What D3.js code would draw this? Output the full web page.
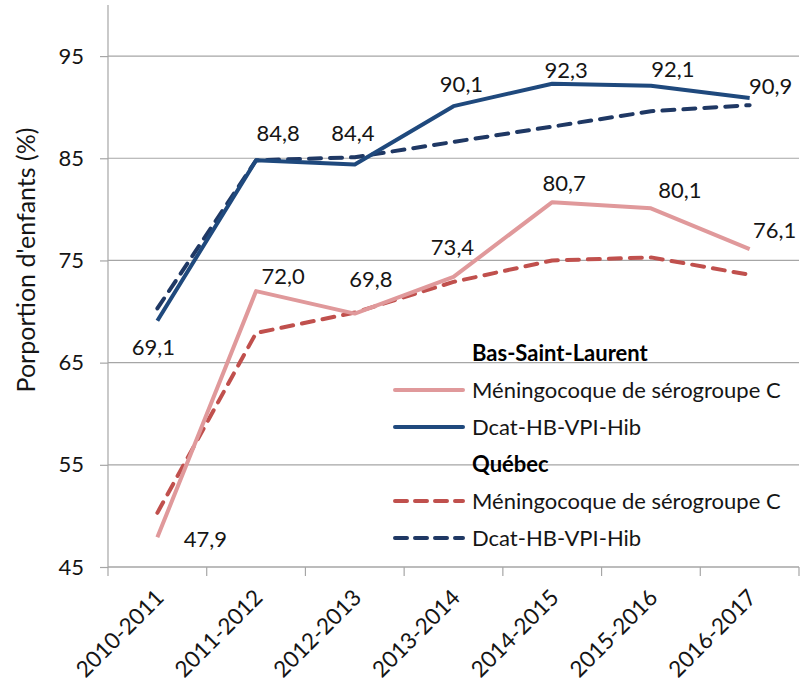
<!DOCTYPE html>
<html>
<head>
<meta charset="utf-8">
<script src="https://cdn.jsdelivr.net/npm/d3@7"></script>
<style>
  body { margin: 0; background: #fff; }
  svg { display: block; font-family: Lato, "Open Sans", sans-serif; }
</style>
</head>
<body>
<div id="chart"></div>
<script>
// --- data ---
const years = ['2010-2011', '2011-2012', '2012-2013', '2013-2014', '2014-2015', '2015-2016', '2016-2017'];
const bslMening = [47.9, 72.0, 69.8, 73.4, 80.7, 80.1, 76.1];
const bslDcat = [69.1, 84.8, 84.4, 90.1, 92.3, 92.1, 90.9];
const qcMening = [50.3, 67.9, 69.9, 72.9, 75.0, 75.3, 73.6];
const qcDcat = [70.3, 84.8, 85.1, 86.6, 88.1, 89.6, 90.2];
const yTicks = [45, 55, 65, 75, 85, 95];

// label offsets (px from the point), hand placed like the original
const dcatLabelOffset = [[-4, 27], [22, -27], [-2, -31], [8, -22], [14, -13], [22, -16], [21, -12]];
const meningLabelOffset = [[48, 2], [27, -15], [16, -34], [-1, -30], [12, -19], [29, -18], [25, -19]];

const W = 812, H = 689;
const plotL = 108, plotR = 799, plotT = 5, plotB = 567;
const ink = '#151515';

const fmt = v => d3.format('.1f')(v).replace('.', ',');

const svg = d3.select('#chart').append('svg')
  .attr('width', W)
  .attr('height', H);

const x = d3.scaleBand().domain(years).range([plotL, plotR]).padding(0);
const y = d3.scaleLinear().domain([45, 100]).range([plotB, plotT]);
const cx = d => x(d) + x.bandwidth() / 2;

const grey = '#a6a6a6';

// gridlines
svg.append('g')
  .selectAll('line')
  .data(yTicks)
  .join('line')
  .attr('x1', plotL).attr('x2', plotR)
  .attr('y1', d => y(d)).attr('y2', d => y(d))
  .attr('stroke', grey).attr('stroke-width', 1.2);

// y axis
const yAxis = svg.append('g')
  .attr('transform', `translate(${plotL},0)`)
  .call(d3.axisLeft(y).tickValues(yTicks).tickSize(8).tickPadding(16).tickFormat(d3.format('d')));
yAxis.select('.domain').attr('stroke', grey).attr('stroke-width', 1.2)
  .attr('d', `M0,${plotT}V${plotB}`);
yAxis.selectAll('.tick line').attr('stroke', grey).attr('stroke-width', 1.2);
yAxis.selectAll('.tick text').attr('font-size', 22).attr('fill', ink).attr('font-family', 'Lato');

// x axis
const xAxis = svg.append('g')
  .attr('transform', `translate(0,${plotB})`)
  .call(d3.axisBottom(x).tickSize(0).tickFormat(''));
xAxis.select('.domain').attr('stroke', grey).attr('stroke-width', 1.2).attr('d', `M${plotL},0H${plotR}`);
// category boundaries ticks
svg.append('g')
  .selectAll('line')
  .data(years.concat(['end']))
  .join('line')
  .attr('x1', (d, i) => plotL + i * x.bandwidth())
  .attr('x2', (d, i) => plotL + i * x.bandwidth())
  .attr('y1', plotB).attr('y2', plotB + 9)
  .attr('stroke', grey).attr('stroke-width', 1.2);

svg.append('g')
  .selectAll('text')
  .data(years)
  .join('text')
  .attr('transform', d => `translate(${cx(d) + 8},${plotB + 32}) rotate(-45)`)
  .attr('text-anchor', 'end')
  .attr('font-size', 22.5)
  .attr('fill', ink)
  .text(d => d);

// y title
svg.append('text')
  .attr('transform', `translate(35,260) rotate(-90)`)
  .attr('text-anchor', 'middle')
  .attr('font-size', 25)
  .attr('fill', ink)
  .text("Porportion d'enfants (%)");

// lines
const series = [
  { values: qcMening, color: '#c0504d', dash: '12 9' },
  { values: qcDcat, color: '#1f3864', dash: '12 9' },
  { values: bslMening, color: '#e0999b', dash: null },
  { values: bslDcat, color: '#1f497d', dash: null }
];

const line = d3.line()
  .x((d, i) => cx(years[i]))
  .y(d => y(d));

svg.append('g')
  .selectAll('path')
  .data(series)
  .join('path')
  .attr('d', d => line(d.values))
  .attr('fill', 'none')
  .attr('stroke', d => d.color)
  .attr('stroke-width', 4)
  .attr('stroke-linecap', d => d.dash ? 'round' : 'butt')
  .attr('stroke-linejoin', 'round')
  .attr('stroke-dasharray', d => d.dash);

// data labels (Bas-Saint-Laurent only)
const labelG = svg.append('g')
  .attr('font-size', 22)
  .attr('fill', ink)
  .attr('text-anchor', 'middle');

labelG.selectAll('text.dcat')
  .data(bslDcat)
  .join('text')
  .attr('class', 'dcat')
  .attr('x', (d, i) => cx(years[i]) + dcatLabelOffset[i][0])
  .attr('y', (d, i) => y(d) + dcatLabelOffset[i][1])
  .attr('dy', '0.35em')
  .text(fmt);

labelG.selectAll('text.mening')
  .data(bslMening)
  .join('text')
  .attr('class', 'mening')
  .attr('x', (d, i) => cx(years[i]) + meningLabelOffset[i][0])
  .attr('y', (d, i) => y(d) + meningLabelOffset[i][1])
  .attr('dy', '0.35em')
  .text(fmt);

// legend
const legendRows = [
  { type: 'title', text: 'Bas-Saint-Laurent', y: 353 },
  { type: 'item', text: 'Méningocoque de sérogroupe C', color: '#e0999b', dash: null, y: 390 },
  { type: 'item', text: 'Dcat-HB-VPI-Hib', color: '#1f497d', dash: null, y: 427 },
  { type: 'title', text: 'Québec', y: 464 },
  { type: 'item', text: 'Méningocoque de sérogroupe C', color: '#c0504d', dash: '12 8', y: 501 },
  { type: 'item', text: 'Dcat-HB-VPI-Hib', color: '#1f3864', dash: '12 8', y: 538 }
];

const legend = svg.append('g');
legend.selectAll('line')
  .data(legendRows.filter(d => d.type === 'item'))
  .join('line')
  .attr('x1', 395).attr('x2', 463)
  .attr('y1', d => d.y).attr('y2', d => d.y)
  .attr('stroke', d => d.color)
  .attr('stroke-width', 4)
  .attr('stroke-linecap', 'round')
  .attr('stroke-dasharray', d => d.dash);

legend.selectAll('text')
  .data(legendRows)
  .join('text')
  .attr('x', 472)
  .attr('y', d => d.y)
  .attr('dy', '0.35em')
  .attr('font-size', 22)
  .attr('font-weight', d => d.type === 'title' ? 'bold' : 'normal')
  .attr('fill', d => d.type === 'title' ? '#000' : ink)
  .text(d => d.text);
</script>
</body>
</html>
